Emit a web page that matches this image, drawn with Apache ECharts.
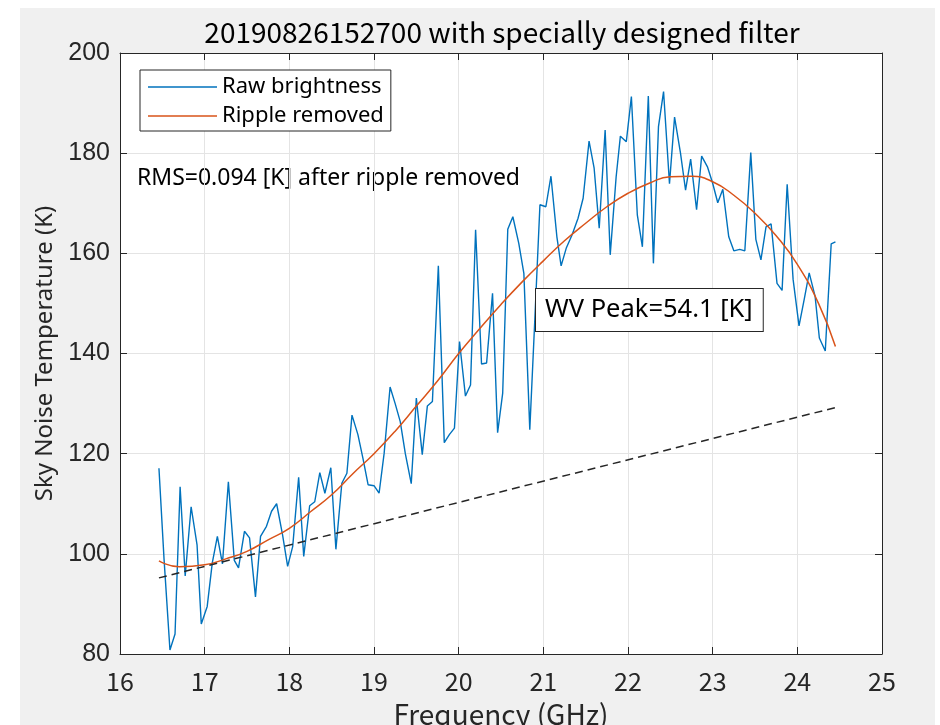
<!DOCTYPE html>
<html>
<head>
<meta charset="utf-8">
<script src="https://cdn.jsdelivr.net/npm/echarts@6/dist/echarts.min.js"></script>
<style>
  html, body { margin: 0; padding: 0; background: #ffffff; }
  #chart { width: 940px; height: 725px; }
</style>
</head>
<body>
<div id="chart"></div>
<script>
// Sampled frequencies of the radiometer sweep (GHz)
const freqGHz = [
  16.46, 16.52, 16.59, 16.65, 16.71, 16.77, 16.84, 16.91, 16.96, 17.03,
  17.09, 17.15, 17.21, 17.28, 17.35, 17.40, 17.47, 17.53, 17.60, 17.66,
  17.73, 17.79, 17.85, 17.92, 17.98, 18.04, 18.11, 18.17, 18.24, 18.30,
  18.36, 18.42, 18.49, 18.55, 18.62, 18.68, 18.74, 18.81, 18.87, 18.93,
  19.00, 19.06, 19.12, 19.19, 19.25, 19.31, 19.37, 19.44, 19.50, 19.57,
  19.63, 19.69, 19.76, 19.83, 19.89, 19.95, 20.01, 20.08, 20.14, 20.20,
  20.27, 20.33, 20.40, 20.46, 20.52, 20.58, 20.64, 20.71, 20.77, 20.84,
  20.90, 20.96, 21.03, 21.09, 21.16, 21.21, 21.27, 21.34, 21.41, 21.47,
  21.54, 21.60, 21.66, 21.73, 21.79, 21.86, 21.91, 21.98, 22.04, 22.11,
  22.17, 22.24, 22.30, 22.36, 22.42, 22.49, 22.55, 22.62, 22.68, 22.74,
  22.81, 22.87, 22.94, 23.00, 23.06, 23.12, 23.19, 23.25, 23.32, 23.38,
  23.45, 23.51, 23.57, 23.63, 23.69, 23.76, 23.82, 23.88, 23.95, 24.02,
  24.08, 24.14, 24.21, 24.26, 24.33, 24.40, 24.45
];

// Raw sky brightness temperature (K)
const rawBrightness = [
  117.1,  99.0,  80.8,  84.0, 113.4,  95.6, 109.4, 101.8,  86.0,  89.5,
   98.2, 103.5,  98.0, 114.4,  98.7,  97.2, 104.5, 103.2,  91.4, 103.5,
  105.5, 108.5, 110.0, 103.8,  97.5, 101.5, 115.3,  99.5, 109.6, 110.4,
  116.2, 112.1, 117.2, 100.9, 114.1, 116.1, 127.7, 123.8, 119.0, 113.8,
  113.6, 112.1, 120.1, 133.3, 130.0, 126.4, 120.0, 114.0, 131.1, 119.8,
  129.5, 130.4, 157.5, 122.2, 123.8, 125.1, 142.4, 131.5, 133.7, 164.7,
  137.9, 138.1, 152.0, 124.2, 132.1, 164.8, 167.3, 162.0, 156.0, 124.8,
  147.0, 169.7, 169.3, 175.4, 163.3, 157.5, 161.0, 163.7, 167.0, 171.0,
  182.4, 177.0, 165.0, 184.6, 159.7, 175.3, 183.4, 182.3, 191.3, 167.7,
  161.3, 191.4, 158.0, 185.3, 192.3, 173.9, 187.2, 180.0, 172.6, 178.8,
  168.7, 179.4, 177.2, 174.0, 170.1, 172.8, 163.3, 160.5, 160.8, 160.5,
  180.1, 162.8, 158.7, 165.3, 165.9, 154.0, 152.6, 173.8, 154.8, 145.5,
  150.7, 156.1, 151.4, 143.1, 140.5, 161.9, 162.3
];

// Filtered spectrum with the standing-wave ripple removed (K)
const smoothFreqGHz = [
  16.46, 16.70, 17.00, 17.25, 17.50, 17.75, 18.00, 18.25, 18.50, 18.75,
  19.00, 19.25, 19.50, 19.75, 20.00, 20.25, 20.50, 20.75, 21.00, 21.25,
  21.50, 21.75, 22.00, 22.25, 22.50, 22.75, 23.00, 23.25, 23.50, 23.75,
  24.00, 24.25, 24.45
];
const rippleRemoved = [
   98.6,  97.4,  97.8,  99.0, 100.5, 102.8, 105.1, 108.4, 111.8, 116.0,
  120.0, 124.5, 129.5, 134.5, 140.0, 145.0, 149.8, 154.3, 158.5, 162.5,
  166.0, 169.3, 172.0, 174.0, 175.3, 175.4, 174.3, 171.6, 168.0, 163.5,
  157.8, 150.0, 141.4
];

// Dry-air baseline under the water-vapour line (K)
const baselineFreqGHz = [16.46, 24.45];
const baselineK = [95.2, 129.2];

// Axis ranges and tick steps
const xRange = { min: 16, max: 25, step: 1 };
const yRange = { min: 80, max: 200, step: 20 };

const titleText = '20190826152700 with specially designed filter';
const rmsText = 'RMS=0.094 [K] after ripple removed';
const peakText = 'WV Peak=54.1 [K]';

const pairs = (xs, ys) => xs.map((x, i) => [x, ys[i]]);

const AX = '#262626';
const FONT_NARROW = '"Noto Sans CJK JP", "Noto Sans", sans-serif';
const FONT = '"Noto Sans", "Open Sans", sans-serif';
const FONT_NUM = '"Liberation Sans", Arial, sans-serif';

const chart = echarts.init(document.getElementById('chart'), null, { renderer: 'canvas' });

const boxAxis = {
  axisLine: { show: true, onZero: false, lineStyle: { color: AX, width: 1 } },
  axisTick: { show: true, inside: true, length: 7, lineStyle: { color: AX } },
  axisLabel: { show: false },
  splitLine: { show: false }
};

chart.setOption({
  backgroundColor: '#ffffff',
  animation: false,
  grid: {
    left: 120, right: 58, top: 53, bottom: 71,
    containLabel: false,
    outerBoundsMode: 'none',
    show: true, backgroundColor: '#ffffff', borderWidth: 0
  },
  legend: {
    data: ['Raw brightness', 'Ripple removed'],
    orient: 'vertical',
    left: 140, top: 70,
    icon: 'rect',
    itemWidth: 69, itemHeight: 1.6,
    itemGap: 7,
    padding: [6, 7, 4, 8],
    backgroundColor: '#ffffff',
    borderColor: AX, borderWidth: 1,
    textStyle: { fontSize: 22, color: '#000000', fontFamily: FONT },
    selectedMode: false
  },
  xAxis: [
    {
      type: 'value', min: xRange.min, max: xRange.max, interval: xRange.step,
      position: 'bottom',
      axisLine: { show: true, onZero: false, lineStyle: { color: AX, width: 1 } },
      axisTick: { show: true, inside: true, length: 7, lineStyle: { color: AX } },
      axisLabel: { color: AX, fontSize: 25, margin: 15, fontFamily: FONT_NARROW },
      splitLine: { show: true, lineStyle: { color: '#e4e4e4', width: 1 } },
      name: 'Frequency (GHz)', nameLocation: 'middle', nameGap: 46,
      nameTextStyle: { fontSize: 28, color: AX, fontFamily: FONT_NARROW }
    },
    Object.assign({ type: 'value', min: xRange.min, max: xRange.max, interval: xRange.step, position: 'top' }, boxAxis)
  ],
  yAxis: [
    {
      type: 'value', min: yRange.min, max: yRange.max, interval: yRange.step,
      position: 'left',
      axisLine: { show: true, onZero: false, lineStyle: { color: AX, width: 1 } },
      axisTick: { show: true, inside: true, length: 7, lineStyle: { color: AX } },
      axisLabel: { color: AX, fontSize: 25, margin: 10, fontFamily: FONT_NUM },
      splitLine: { show: true, lineStyle: { color: '#e4e4e4', width: 1 } },
      name: 'Sky Noise Temperature (K)', nameLocation: 'middle', nameGap: 58,
      nameTextStyle: { fontSize: 24, color: AX, fontFamily: FONT }
    },
    Object.assign({ type: 'value', min: yRange.min, max: yRange.max, interval: yRange.step, position: 'right' }, boxAxis)
  ],
  series: [
    {
      name: 'Raw brightness', type: 'line',
      data: pairs(freqGHz, rawBrightness),
      showSymbol: false, symbol: 'none',
      lineStyle: { color: '#0072BD', width: 1.4 },
      itemStyle: { color: '#0072BD' }
    },
    {
      name: 'Ripple removed', type: 'line',
      data: pairs(smoothFreqGHz, rippleRemoved),
      smooth: 0.5,
      showSymbol: false, symbol: 'none',
      lineStyle: { color: '#D95319', width: 1.5 },
      itemStyle: { color: '#D95319' }
    },
    {
      name: 'Baseline', type: 'line',
      data: pairs(baselineFreqGHz, baselineK),
      showSymbol: false, symbol: 'none',
      lineStyle: { color: AX, width: 1.5, type: [8, 5] },
      itemStyle: { color: AX }
    }
  ],
  graphic: [
    {
      type: 'rect', z: -10, silent: true,
      shape: { x: 20, y: 8, width: 915, height: 717 },
      style: { fill: '#f0f0f0' }
    },
    {
      type: 'text', silent: true, x: 502, y: 32,
      style: {
        text: titleText, fill: '#000000', font: '28px ' + FONT_NARROW,
        align: 'center', verticalAlign: 'middle'
      }
    },
    {
      type: 'text', silent: true, x: 137, y: 178,
      style: {
        text: rmsText, fill: '#000000', font: '23px ' + FONT,
        align: 'left', verticalAlign: 'middle'
      }
    },
    {
      type: 'text', silent: true, x: 536, y: 289, z: 10,
      style: {
        text: peakText, fill: '#000000', font: '25.5px ' + FONT,
        align: 'left', verticalAlign: 'top',
        backgroundColor: '#ffffff', borderColor: AX, borderWidth: 1,
        padding: [8, 10, 8, 9]
      }
    }
  ]
});
</script>
</body>
</html>
